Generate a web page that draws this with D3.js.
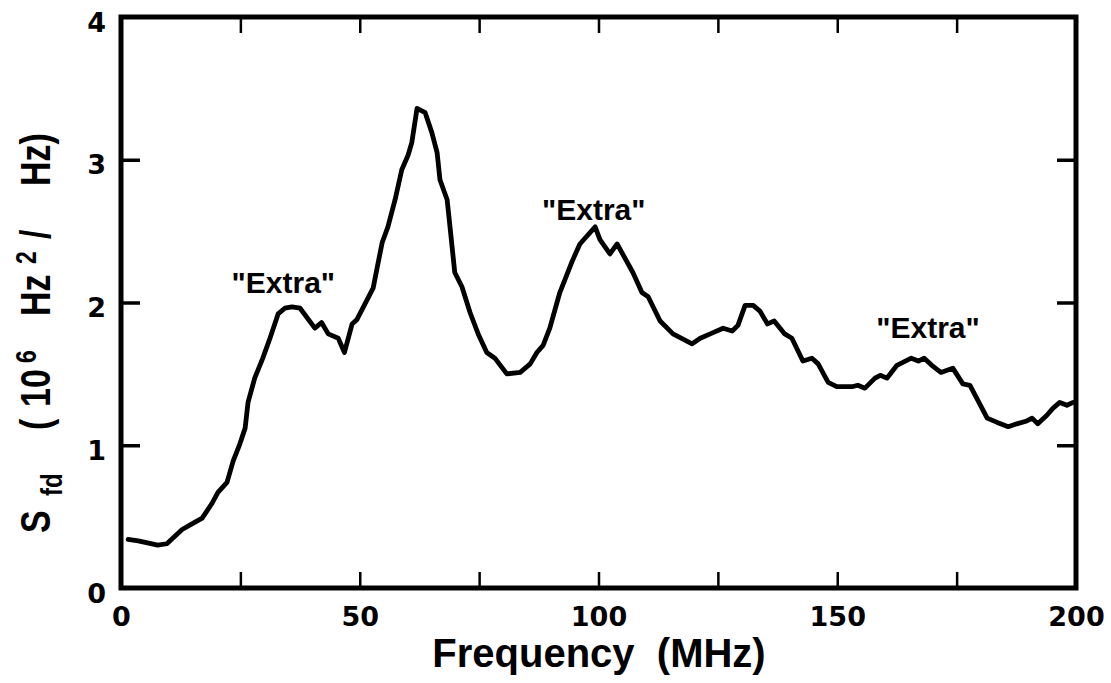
<!DOCTYPE html>
<html>
<head>
<meta charset="utf-8">
<script src="https://cdn.jsdelivr.net/npm/d3@7"></script>
<style>
  html, body { margin: 0; padding: 0; background: #fff; }
  svg { display: block; }
  text { font-family: "Liberation Sans", Arial, Helvetica, sans-serif; font-weight: bold; fill: #000; }
  .tick text { font-family: "DejaVu Sans", "Liberation Sans", Arial, sans-serif; font-weight: bold; }
</style>
</head>
<body>
<svg id="chart" width="1111" height="683"></svg>
<script>
// Frequency (MHz)
const freq = [1.5, 3.6, 7.7, 9.6, 12.8, 14.4, 17, 19, 20.3, 22.2,
  23.5, 24.9, 26, 26.6, 28, 29.7, 31.2, 32.9, 34.3, 35.8,
  37.5, 40.6, 42, 43.4, 45.5, 46.8, 48.4, 49.4, 51.1, 52.8,
  53.8, 54.7, 55.9, 57.4, 58.8, 60.1, 60.9, 62, 63.7, 65.1,
  66.2, 66.8, 68.3, 68.9, 69.9, 71.4, 73.1, 74.8, 76.6, 78.3,
  80.8, 83.6, 85.7, 87.1, 88.4, 89.8, 91.9, 94.5, 96.1, 99.3,
  100.3, 102.4, 103.9, 107.2, 109.1, 110.4, 112.9, 115.6, 119.6, 121.3,
  123.4, 126.1, 128, 129.2, 130.7, 132.4, 133.8, 135.4, 136.8, 139,
  140.5, 142.8, 144.7, 146, 148.1, 149.9, 153.1, 154.3, 155.8, 157.9,
  159, 160.4, 162.5, 165.5, 167, 168.2, 169.8, 171.7, 174.2, 176.3,
  177.8, 181.4, 183.5, 185.8, 187.6, 189.7, 190.8, 192, 193.9, 195.2,
  196.6, 198.1, 199.4];
// S_fd (10^6 Hz^2/Hz)
const sfd = [0.34, 0.33, 0.30, 0.31, 0.41, 0.44, 0.49, 0.59, 0.67, 0.74,
  0.89, 1.01, 1.12, 1.30, 1.47, 1.61, 1.75, 1.92, 1.96, 1.97,
  1.96, 1.82, 1.86, 1.78, 1.75, 1.65, 1.85, 1.88, 1.99, 2.10,
  2.27, 2.42, 2.53, 2.72, 2.93, 3.03, 3.12, 3.36, 3.33, 3.19,
  3.05, 2.86, 2.72, 2.53, 2.21, 2.11, 1.93, 1.78, 1.65, 1.61,
  1.50, 1.51, 1.57, 1.65, 1.70, 1.82, 2.07, 2.29, 2.41, 2.53,
  2.44, 2.34, 2.41, 2.21, 2.07, 2.04, 1.87, 1.78, 1.71, 1.75,
  1.78, 1.82, 1.80, 1.84, 1.98, 1.98, 1.94, 1.85, 1.87, 1.78,
  1.75, 1.59, 1.61, 1.57, 1.44, 1.41, 1.41, 1.42, 1.40, 1.47,
  1.49, 1.47, 1.56, 1.61, 1.59, 1.61, 1.56, 1.51, 1.54, 1.43,
  1.42, 1.19, 1.16, 1.13, 1.15, 1.17, 1.19, 1.15, 1.21, 1.26,
  1.30, 1.28, 1.30];

const xTicks = [0, 25, 50, 75, 100, 125, 150, 175, 200];
const xLabelTicks = [0, 50, 100, 150, 200];
const yTicks = [0, 1, 2, 3, 4];

// annotations: label text and the (freq, value) they sit above
const annoText = ["\"Extra\"", "\"Extra\"", "\"Extra\""];
const annoFreq = [34, 99, 169];
const annoVal = [2.07, 2.58, 1.75];

const svg = d3.select("#chart");
const L = 121, R = 1076, T = 17, B = 588;
const x = d3.scaleLinear().domain([0, 200]).range([L, R]);
const y = d3.scaleLinear().domain([0, 4]).range([B, T]);

// axes (ticks inward)
const gB = svg.append("g").attr("transform", `translate(0,${B})`)
  .call(d3.axisBottom(x).tickValues(xTicks).tickSizeInner(-16).tickSizeOuter(0)
    .tickPadding(19).tickFormat(d => xLabelTicks.includes(d) ? d : ""));
const gT = svg.append("g").attr("transform", `translate(0,${T})`)
  .call(d3.axisTop(x).tickValues(xTicks.slice(1, -1)).tickSizeInner(-16).tickSizeOuter(0).tickFormat(""));
const gL = svg.append("g").attr("transform", `translate(${L},0)`)
  .call(d3.axisLeft(y).tickValues(yTicks).tickSizeInner(-19).tickSizeOuter(0).tickPadding(15).tickFormat(d3.format("d")));
const gR = svg.append("g").attr("transform", `translate(${R},0)`)
  .call(d3.axisRight(y).tickValues(yTicks.slice(1, -1)).tickSizeInner(-19).tickSizeOuter(0).tickFormat(""));

[gB, gT, gL, gR].forEach(g => {
  g.select(".domain").remove();
  g.selectAll("text").style("font-size", "27px");
});
gB.selectAll(".tick line").attr("stroke", "#000").attr("stroke-width", 2.5);
gT.selectAll(".tick line").attr("stroke", "#000").attr("stroke-width", 2.5);
gL.selectAll(".tick line").attr("stroke", "#000").attr("stroke-width", 3.5);
gR.selectAll(".tick line").attr("stroke", "#000").attr("stroke-width", 3.5);
gL.selectAll(".tick").filter(d => d === 0 || d === 4).select("line").remove();
gL.selectAll("text").attr("dy", "0.52em");
gB.selectAll("text").attr("dy", "0.72em");

// frame
svg.append("rect").attr("x", L).attr("y", T).attr("width", R - L).attr("height", B - T)
  .attr("fill", "none").attr("stroke", "#000").attr("stroke-width", 5);

// curve
const line = d3.line().x((d, i) => x(freq[i])).y(d => y(d));
svg.append("path").datum(sfd).attr("d", line)
  .attr("fill", "none").attr("stroke", "#000").attr("stroke-width", 4.8)
  .attr("stroke-linejoin", "round").attr("stroke-linecap", "round");

// annotations
svg.selectAll(".anno").data(annoText).enter().append("text")
  .attr("class", "anno")
  .attr("x", (d, i) => x(annoFreq[i]))
  .attr("y", (d, i) => y(annoVal[i]))
  .attr("text-anchor", "middle")
  .style("font-size", "30px")
  .text(d => d);

// x title
svg.append("text").attr("x", 599).attr("y", 667).attr("text-anchor", "middle")
  .style("font-size", "40px").attr("xml:space", "preserve").text("Frequency  (MHz)");

// y title (rotated; glyphs widened across the text direction like the scan)
const yt = svg.append("text")
  .attr("transform", "translate(50,533) rotate(-90) scale(1,1.25)")
  .style("font-size", "34px");
yt.append("tspan").attr("x", 0).attr("y", 0).text("S");
yt.append("tspan").attr("x", 37).attr("y", 9.5).style("font-size", "24px").text("fd");
yt.append("tspan").attr("x", 103).attr("y", 0).text("(");
yt.append("tspan").attr("x", 126).attr("y", 0).text("10");
yt.append("tspan").attr("x", 170).attr("y", -11).style("font-size", "23px").text("6");
yt.append("tspan").attr("x", 217).attr("y", 0).text("Hz");
yt.append("tspan").attr("x", 269).attr("y", -11).style("font-size", "23px").text("2");
yt.append("tspan").attr("x", 294).attr("y", 0).text("/");
yt.append("tspan").attr("x", 347).attr("y", 0).text("Hz)");
</script>
</body>
</html>
